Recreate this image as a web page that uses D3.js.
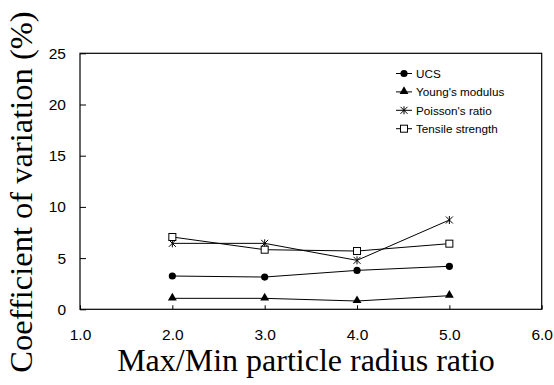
<!DOCTYPE html>
<html>
<head>
<meta charset="utf-8">
<script src="https://cdn.jsdelivr.net/npm/d3@7"></script>
<style>
  body { margin: 0; background: #fff; }
  svg { display: block; }
</style>
</head>
<body>
<svg id="chart" width="554" height="385"></svg>
<script>
// data
var ratios = [2.0, 3.0, 4.0, 5.0];
var ucs = [3.25, 3.15, 3.8, 4.2];
var youngs = [1.07, 1.07, 0.81, 1.33];
var poisson = [6.44, 6.44, 4.78, 8.72];
var tensile = [7.06, 5.82, 5.69, 6.41];
var seriesNames = ["UCS", "Young's modulus", "Poisson's ratio", "Tensile strength"];
var xTicks = [1, 2, 3, 4, 5, 6];
var yTicks = [0, 5, 10, 15, 20, 25];

/** draws the whole chart */
function drawChart() {
  var svg = d3.select("#chart");
  var pLeft = 80, pRight = 541.7, pTop = 53.3, pBottom = 309.3;

  var x = d3.scaleLinear().domain([1, 6]).range([pLeft, pRight]);
  var y = d3.scaleLinear().domain([0, 25]).range([pBottom, pTop]);

  /** frame */
  svg.append("rect")
    .attr("x", pLeft).attr("y", pTop)
    .attr("width", pRight - pLeft).attr("height", pBottom - pTop)
    .attr("fill", "none").attr("stroke", "#000").attr("stroke-width", 1.2);

  /** axes, ticks inward */
  var xAxis = svg.append("g")
    .attr("transform", "translate(0," + pBottom + ")")
    .call(d3.axisBottom(x).tickValues(xTicks).tickSizeInner(-4).tickSizeOuter(0).tickPadding(20)
      .tickFormat(function(d) { return d3.format(".1f")(d); }));
  xAxis.select(".domain").remove();
  xAxis.selectAll("text").attr("font-family", "Liberation Sans, Arial").attr("font-size", 15.5).attr("fill", "#000");

  var yAxis = svg.append("g")
    .attr("transform", "translate(" + pLeft + ",0)")
    .call(d3.axisLeft(y).tickValues(yTicks).tickSizeInner(-6).tickSizeOuter(0).tickPadding(14));
  yAxis.select(".domain").remove();
  yAxis.selectAll("text").attr("font-family", "Liberation Sans, Arial").attr("font-size", 15.5).attr("fill", "#000");

  /** axis titles */
  svg.append("text")
    .attr("x", 306).attr("y", 371)
    .attr("text-anchor", "middle")
    .attr("font-family", "Liberation Serif, Times New Roman")
    .attr("font-size", 32)
    .text("Max/Min particle radius ratio");

  svg.append("text")
    .attr("transform", "translate(32,192) rotate(-90)")
    .attr("text-anchor", "middle")
    .attr("font-family", "Liberation Serif, Times New Roman")
    .attr("font-size", 32.5)
    .text("Coefficient of variation (%)");

  /** markers */
  function drawMarker(g, kind, cx, cy) {
    if (kind === 0) {
      g.append("circle").attr("cx", cx).attr("cy", cy).attr("r", 3.6).attr("fill", "#000");
    } else if (kind === 1) {
      g.append("path").attr("d", d3.symbol().type(d3.symbolTriangle).size(34)())
        .attr("transform", "translate(" + cx + "," + (cy - 0.5) + ")").attr("fill", "#000");
    } else if (kind === 2) {
      var s = 3.5;
      g.append("path")
        .attr("d", "M" + (cx - s) + "," + (cy - s) + "L" + (cx + s) + "," + (cy + s) +
                   "M" + (cx - s) + "," + (cy + s) + "L" + (cx + s) + "," + (cy - s) +
                   "M" + cx + "," + (cy - s - 0.5) + "L" + cx + "," + (cy + s + 0.5))
        .attr("stroke", "#000").attr("stroke-width", 1).attr("fill", "none");
    } else {
      g.append("rect").attr("x", cx - 3.5).attr("y", cy - 3.5).attr("width", 7).attr("height", 7)
        .attr("fill", "#fff").attr("stroke", "#000").attr("stroke-width", 1);
    }
  }

  var allSeries = [ucs, youngs, poisson, tensile];
  var line = d3.line()
    .x(function(d, i) { return x(ratios[i]); })
    .y(function(d) { return y(d); });

  allSeries.forEach(function(vals, k) {
    var g = svg.append("g");
    g.append("path").attr("d", line(vals)).attr("fill", "none").attr("stroke", "#000").attr("stroke-width", 1);
    vals.forEach(function(v, i) { drawMarker(g, k, x(ratios[i]), y(v)); });
  });

  /** legend */
  var legend = svg.append("g");
  seriesNames.forEach(function(name, k) {
    var ly = 73.5 + k * 18.4;
    legend.append("line").attr("x1", 396).attr("x2", 412).attr("y1", ly).attr("y2", ly)
      .attr("stroke", "#000").attr("stroke-width", 1);
    drawMarker(legend, k, 404, ly);
    legend.append("text").attr("x", 416).attr("y", ly + 4.2)
      .attr("font-family", "Liberation Sans, Arial").attr("font-size", 11.7)
      .text(name);
  });
}
drawChart();
</script>
</body>
</html>
